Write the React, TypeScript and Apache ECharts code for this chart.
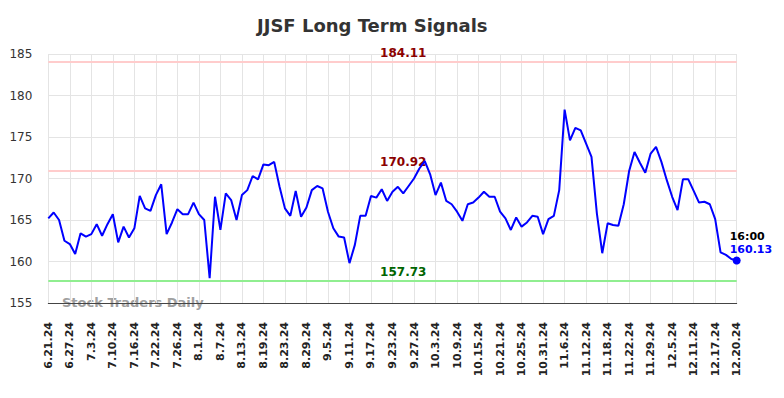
import React, { useEffect, useRef } from 'react';
import * as echarts from 'echarts';

const dates: string[] = [
  '6.21.24', '6.24.24', '6.25.24', '6.26.24', '6.27.24', '6.28.24',
  '7.1.24', '7.2.24', '7.3.24', '7.5.24', '7.8.24', '7.9.24', '7.10.24', '7.11.24', '7.12.24', '7.15.24', '7.16.24', '7.17.24', '7.18.24', '7.19.24', '7.22.24', '7.23.24', '7.24.24', '7.25.24', '7.26.24', '7.29.24', '7.30.24', '7.31.24',
  '8.1.24', '8.2.24', '8.5.24', '8.6.24', '8.7.24', '8.8.24', '8.9.24', '8.12.24', '8.13.24', '8.14.24', '8.15.24', '8.16.24', '8.19.24', '8.20.24', '8.21.24', '8.22.24', '8.23.24', '8.26.24', '8.27.24', '8.28.24', '8.29.24', '8.30.24',
  '9.3.24', '9.4.24', '9.5.24', '9.6.24', '9.9.24', '9.10.24', '9.11.24', '9.12.24', '9.13.24', '9.16.24', '9.17.24', '9.18.24', '9.19.24', '9.20.24', '9.23.24', '9.24.24', '9.25.24', '9.26.24', '9.27.24', '9.30.24',
  '10.1.24', '10.2.24', '10.3.24', '10.4.24', '10.7.24', '10.8.24', '10.9.24', '10.10.24', '10.11.24', '10.14.24', '10.15.24', '10.16.24', '10.17.24', '10.18.24', '10.21.24', '10.22.24', '10.23.24', '10.24.24', '10.25.24', '10.28.24', '10.29.24', '10.30.24', '10.31.24',
  '11.1.24', '11.4.24', '11.5.24', '11.6.24', '11.7.24', '11.8.24', '11.11.24', '11.12.24', '11.13.24', '11.14.24', '11.15.24', '11.18.24', '11.19.24', '11.20.24', '11.21.24', '11.22.24', '11.25.24', '11.26.24', '11.27.24', '11.29.24',
  '12.2.24', '12.3.24', '12.4.24', '12.5.24', '12.6.24', '12.9.24', '12.10.24', '12.11.24', '12.12.24', '12.13.24', '12.16.24', '12.17.24', '12.18.24', '12.19.24', '12.20.24', '12.20.24',
];

const closes: number[] = [
  165.2, 165.9, 165.0, 162.5, 162.1, 160.9, 163.4, 163.0, 163.3, 164.5,
  163.1, 164.5, 165.7, 162.3, 164.2, 162.9, 164.0, 167.9, 166.4, 166.1,
  168.0, 169.3, 163.3, 164.7, 166.3, 165.7, 165.7, 167.1, 165.7, 165.0,
  158.0, 167.8, 163.8, 168.2, 167.4, 165.0, 168.0, 168.6, 170.3, 169.9,
  171.7, 171.6, 172.0, 169.0, 166.4, 165.5, 168.5, 165.4, 166.5, 168.6,
  169.1, 168.8, 166.0, 164.0, 163.0, 162.9, 159.8, 162.0, 165.5, 165.5,
  167.9, 167.7, 168.7, 167.3, 168.4, 169.0, 168.2, 169.1, 170.0, 171.2,
  172.1, 170.5, 168.0, 169.5, 167.3, 166.9, 166.0, 164.9, 166.9, 167.1,
  167.7, 168.4, 167.8, 167.8, 166.0, 165.2, 163.8, 165.3, 164.2, 164.7,
  165.5, 165.4, 163.3, 165.1, 165.5, 168.6, 178.3, 174.6, 176.1, 175.8,
  174.2, 172.6, 165.8, 161.0, 164.6, 164.4, 164.3, 166.9, 170.9, 173.2,
  171.9, 170.7, 173.0, 173.8, 172.0, 169.8, 167.8, 166.2, 169.9, 169.9,
  168.5, 167.1, 167.2, 166.9, 165.1, 161.1, 160.8, 160.3, 160.13,
];

const upperLevel = 184.11;
const middleLevel = 170.92;
const lowerLevel = 157.73;
const lastTime = '16:00';
const yTicks = { min: 155, max: 185, step: 5 };

export default function App() {
  const ref = useRef<HTMLDivElement>(null);

  useEffect(() => {
    if (!ref.current) return;
    const chart = echarts.init(ref.current, null, { renderer: 'svg' });
    const last = closes.length - 1;
    const labelIdx = 66;

    const levelLabel = (v: number, color: string) => ({
      coord: [labelIdx, v],
      symbol: 'circle',
      symbolSize: 1,
      itemStyle: { color: 'rgba(0,0,0,0)' },
      label: {
        show: true,
        position: 'top',
        distance: 2,
        formatter: v.toFixed(2),
        color,
        fontWeight: 'bold',
        fontSize: 12,
        fontFamily: 'DejaVu Sans',
      },
    });

    chart.setOption({
      animation: false,
      textStyle: { fontFamily: 'DejaVu Sans' },
      title: {
        text: 'JJSF Long Term Signals',
        left: 257,
        top: 16,
        padding: 0,
        textStyle: { fontSize: 18, fontWeight: 'bold', color: '#333', fontFamily: 'DejaVu Sans' },
      },
      grid: { left: 48.3, right: 47.3, top: 54, bottom: 95, containLabel: false },
      xAxis: {
        type: 'category',
        data: dates,
        boundaryGap: false,
        axisLine: { show: true, lineStyle: { color: '#444', width: 1 } },
        axisTick: { show: false },
        axisLabel: {
          interval: 3,
          rotate: 90,
          fontSize: 11,
          fontWeight: 'bold',
          color: '#222',
          margin: 19,
          fontFamily: 'DejaVu Sans',
        },
        splitLine: { show: true, interval: 3, lineStyle: { color: '#e4e4e4', width: 1 } },
      },
      yAxis: {
        type: 'value',
        min: yTicks.min,
        max: yTicks.max,
        interval: yTicks.step,
        axisLine: { show: false },
        axisTick: { show: false },
        axisLabel: { fontSize: 12, color: '#333', margin: 16, fontFamily: 'DejaVu Sans' },
        splitLine: { show: true, lineStyle: { color: '#e4e4e4', width: 1 } },
      },
      graphic: [
        {
          type: 'text',
          x: 62,
          y: 302,
          z: -1,
          style: {
            text: 'Stock Traders Daily',
            fill: '#a0a0a0',
            fontSize: 13,
            fontWeight: 'bold',
            fontFamily: 'DejaVu Sans',
            textVerticalAlign: 'middle',
          },
        },
      ],
      series: [
        {
          type: 'line',
          data: closes,
          symbol: 'none',
          lineStyle: { color: '#0000ff', width: 2 },
          z: 5,
          markLine: {
            silent: true,
            symbol: 'none',
            label: { show: false },
            data: [
              { yAxis: upperLevel, lineStyle: { color: '#ffcccc', width: 2, type: 'solid' } },
              { yAxis: middleLevel, lineStyle: { color: '#ffcccc', width: 2, type: 'solid' } },
              { yAxis: lowerLevel, lineStyle: { color: '#90ee90', width: 2, type: 'solid' } },
            ],
          },
          markPoint: {
            silent: true,
            data: [
              levelLabel(upperLevel, '#8b0000'),
              levelLabel(middleLevel, '#8b0000'),
              levelLabel(lowerLevel, '#006400'),
              {
                coord: [last, closes[last]],
                symbol: 'circle',
                symbolSize: 8,
                itemStyle: { color: '#0000ff' },
                label: {
                  show: true,
                  position: [-3, -26],
                  formatter: `{t|${lastTime}}\n{v|${closes[last].toFixed(2)}}`,
                  rich: {
                    t: { color: '#000', fontWeight: 'bold', fontSize: 11, lineHeight: 13, fontFamily: 'DejaVu Sans' },
                    v: { color: '#0000ff', fontWeight: 'bold', fontSize: 11, lineHeight: 13, fontFamily: 'DejaVu Sans' },
                  },
                },
              },
            ],
          },
        },
      ],
    });

    return () => chart.dispose();
  }, []);

  return (
    <div
      ref={ref}
      style={{ position: 'fixed', left: 0, top: 0, width: 784, height: 398, background: '#fff' }}
    />
  );
}
